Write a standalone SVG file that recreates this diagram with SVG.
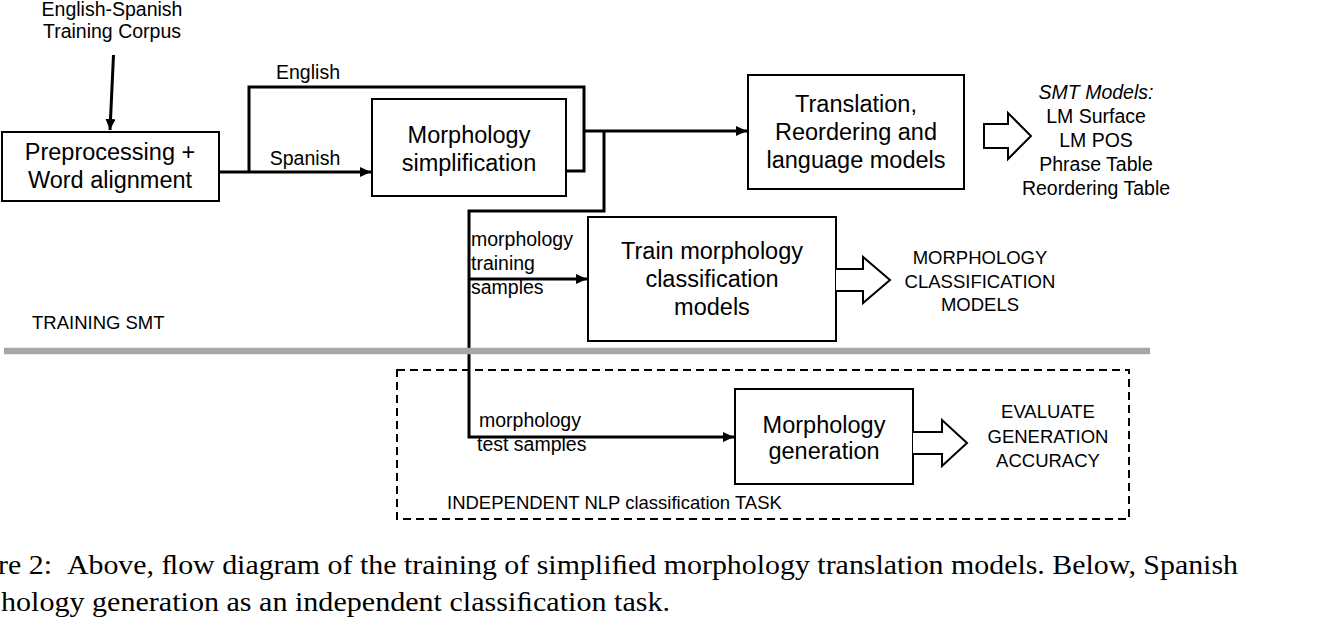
<svg xmlns="http://www.w3.org/2000/svg" width="1338" height="632" viewBox="0 0 1338 632">
<defs>
<marker id="ah" markerUnits="userSpaceOnUse" markerWidth="11" markerHeight="10" refX="11" refY="5" orient="auto">
<path d="M0,0 L11,5 L0,10 z" fill="#000"/>
</marker>
<style>
.box{fill:#fff;stroke:#000;stroke-width:2}
.bt{font-family:"Liberation Sans",Arial,sans-serif;font-size:23.5px;text-anchor:middle;fill:#000}
.lb{font-family:"Liberation Sans",Arial,sans-serif;font-size:19.5px;fill:#000}
.up{font-family:"Liberation Sans",Arial,sans-serif;font-size:18.5px;fill:#000}
.c{text-anchor:middle}
.con{fill:none;stroke:#000;stroke-width:3}
.hol{fill:#fff;stroke:#000;stroke-width:2;stroke-linejoin:miter}
.cap{font-family:"Liberation Serif","Times New Roman",serif;font-size:28px;fill:#000}
</style>
</defs>
<rect width="1338" height="632" fill="#fff"/>

<g id="connectors">
<path class="con" d="M113.5,55 L110,130" marker-end="url(#ah)"/>
<path class="con" d="M219,172 H371" marker-end="url(#ah)"/>
<path class="con" d="M249,172 V87 H584 V171 H567"/>
<path class="con" d="M584,131 H747" marker-end="url(#ah)"/>
<path class="con" d="M604,131 V211 H469 V437 H734" marker-end="url(#ah)"/>
<path class="con" d="M469,279 H587" marker-end="url(#ah)"/>
</g>

<g id="corpus">
<text class="lb c" x="112" y="16" font-size="18.5">English-Spanish</text>
<text class="lb c" x="112" y="38" font-size="18.5">Training Corpus</text>
</g>

<g id="preprocessing">
<rect class="box" x="2" y="132" width="217" height="69"/>
<text class="bt" x="110" y="160">Preprocessing +</text>
<text class="bt" x="110" y="188">Word alignment</text>
</g>

<g id="label-english"><text class="lb c" x="308" y="79">English</text></g>
<g id="label-spanish"><text class="lb c" x="305" y="165">Spanish</text></g>

<g id="morph-simplification">
<rect class="box" x="372" y="99" width="194" height="97"/>
<text class="bt" x="469" y="143">Morphology</text>
<text class="bt" x="469" y="171">simplification</text>
</g>

<g id="translation">
<rect class="box" x="748" y="75" width="216" height="114"/>
<text class="bt" x="856" y="112">Translation,</text>
<text class="bt" x="856" y="140">Reordering and</text>
<text class="bt" x="856" y="168">language models</text>
</g>

<g id="smt-arrow">
<path class="hol" d="M984,124 H1008 V113 L1031,136 L1008,159 V148 H984 Z"/>
</g>

<g id="smt-models">
<text class="lb c" x="1096" y="99" font-style="italic">SMT Models:</text>
<text class="lb c" x="1096" y="123">LM Surface</text>
<text class="lb c" x="1096" y="147">LM POS</text>
<text class="lb c" x="1096" y="171">Phrase Table</text>
<text class="lb c" x="1096" y="195">Reordering Table</text>
</g>

<g id="label-training-samples">
<text class="lb" x="471" y="246">morphology</text>
<text class="lb" x="471" y="270">training</text>
<text class="lb" x="471" y="294">samples</text>
</g>

<g id="train-morph">
<rect class="box" x="588" y="217" width="248" height="124"/>
<text class="bt" x="712" y="259">Train morphology</text>
<text class="bt" x="712" y="287">classification</text>
<text class="bt" x="712" y="315">models</text>
</g>

<g id="morph-arrow">
<path class="hol" d="M836,269 H863 V257 L890,280 L863,303 V291 H836"/>
</g>

<g id="morph-models">
<text class="up c" x="980" y="264">MORPHOLOGY</text>
<text class="up c" x="980" y="288">CLASSIFICATION</text>
<text class="up c" x="980" y="311">MODELS</text>
</g>

<g id="training-smt"><text class="up" x="32" y="329">TRAINING SMT</text></g>

<g id="separator"><line x1="4" y1="351" x2="1150" y2="351" stroke="#a6a6a6" stroke-width="6.5"/></g>

<g id="independent-task">
<rect x="397" y="370" width="732" height="149" fill="none" stroke="#000" stroke-width="2" stroke-dasharray="8 5"/>
<text class="up" x="447" y="509">INDEPENDENT NLP classification TASK</text>
</g>

<g id="label-test-samples">
<text class="lb" x="479" y="427">morphology</text>
<text class="lb" x="477" y="451">test samples</text>
</g>

<g id="morph-generation">
<rect class="box" x="735" y="389" width="178" height="95"/>
<text class="bt" x="824" y="433">Morphology</text>
<text class="bt" x="824" y="459">generation</text>
</g>

<g id="eval-arrow">
<path class="hol" d="M913,432 H942 V420 L967,443 L942,466 V454 H913"/>
</g>

<g id="evaluate">
<text class="up c" x="1048" y="418">EVALUATE</text>
<text class="up c" x="1048" y="443">GENERATION</text>
<text class="up c" x="1048" y="467">ACCURACY</text>
</g>

<g id="caption">
<text class="cap" x="-2" y="574" textLength="1240" lengthAdjust="spacingAndGlyphs">re 2: &#160;Above, ﬂow diagram of the training of simpliﬁed morphology translation models. Below, Spanish</text>
<text class="cap" x="1" y="611" textLength="669" lengthAdjust="spacingAndGlyphs">hology generation as an independent classiﬁcation task.</text>
</g>
</svg>
